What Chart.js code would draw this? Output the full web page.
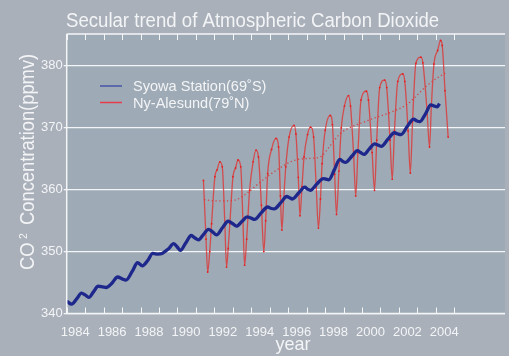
<!DOCTYPE html>
<html>
<head>
<meta charset="utf-8">
<script src="https://cdn.jsdelivr.net/npm/chart.js@4.4.1/dist/chart.umd.min.js"></script>
<style>
  html, body { margin: 0; padding: 0; background: rgb(169,176,186); overflow: hidden; }
  canvas { display: block; }
</style>
</head>
<body>
<canvas id="c" width="509" height="356"></canvas>
<script>
// Syowa Station (69°S) CO2, decimal year / ppmv
const SYOWA_YEAR = [
  1984.00, 1984.27, 1984.55, 1984.80, 1985.00, 1985.20, 1985.45, 1985.70, 1985.95, 1986.14,
  1986.45, 1986.76, 1987.00, 1987.21, 1987.55, 1987.84, 1988.10, 1988.40, 1988.66, 1988.95,
  1989.17, 1989.50, 1989.80, 1990.00, 1990.16, 1990.45, 1990.75, 1990.95, 1991.14, 1991.42,
  1991.68, 1991.90, 1992.12, 1992.45, 1992.75, 1993.00, 1993.20, 1993.50, 1993.78, 1994.00,
  1994.18, 1994.55, 1994.89, 1995.05, 1995.25, 1995.60, 1995.92, 1996.08, 1996.23, 1996.58,
  1996.90, 1997.05, 1997.20, 1997.55, 1997.90, 1998.05, 1998.20, 1998.50, 1998.80, 1998.95,
  1999.10, 1999.45, 1999.75, 1999.92, 2000.10, 2000.40, 2000.69, 2000.88, 2001.05, 2001.42,
  2001.76, 2001.95, 2002.12, 2002.45, 2002.80, 2002.98, 2003.14, 2003.45, 2003.73, 2003.92,
  2004.08, 2004.20
];
const SYOWA_CO2 = [
  342.0, 341.5, 342.4, 343.3, 343.0, 342.6, 343.5, 344.4, 344.3, 344.2,
  344.9, 345.9, 345.6, 345.4, 346.8, 348.2, 347.7, 348.6, 349.7, 349.6,
  349.7, 350.4, 351.3, 350.7, 350.2, 351.4, 352.6, 352.2, 351.9, 352.8,
  353.6, 353.2, 352.7, 353.9, 354.9, 354.5, 354.1, 354.9, 355.6, 355.4,
  355.2, 356.3, 357.2, 357.0, 356.9, 357.9, 358.9, 358.7, 358.5, 359.5,
  360.4, 360.1, 359.9, 360.9, 361.8, 361.7, 361.6, 363.2, 364.9, 364.6,
  364.4, 365.4, 366.3, 366.0, 365.7, 366.6, 367.4, 367.2, 367.0, 368.2,
  369.2, 369.0, 368.9, 370.2, 371.4, 371.1, 371.0, 372.3, 373.7, 373.5,
  373.4, 373.9
];

// Ny-Alesund (79°N) CO2, decimal year / ppmv
const NYA_YEAR = [
  1991.41, 1991.55, 1991.64, 1991.75, 1991.85, 1992.03, 1992.15, 1992.30, 1992.43, 1992.57,
  1992.66, 1992.75, 1992.84, 1993.01, 1993.15, 1993.28, 1993.43, 1993.55, 1993.64, 1993.75,
  1993.91, 1994.10, 1994.26, 1994.39, 1994.55, 1994.68, 1994.78, 1994.89, 1995.10, 1995.34,
  1995.48, 1995.58, 1995.66, 1995.76, 1995.87, 1996.05, 1996.32, 1996.42, 1996.55, 1996.64,
  1996.75, 1996.86, 1997.05, 1997.21, 1997.38, 1997.52, 1997.64, 1997.75, 1997.84, 1998.01,
  1998.28, 1998.40, 1998.52, 1998.62, 1998.75, 1998.88, 1999.05, 1999.27, 1999.38, 1999.55,
  1999.66, 1999.78, 1999.95, 2000.24, 2000.35, 2000.55, 2000.68, 2000.80, 2000.96, 2001.23,
  2001.34, 2001.52, 2001.64, 2001.76, 2001.94, 2002.21, 2002.32, 2002.50, 2002.62, 2002.74,
  2002.92, 2003.19, 2003.30, 2003.52, 2003.66, 2003.76, 2003.90, 2004.10, 2004.26, 2004.35,
  2004.50, 2004.67
];
const NYA_CO2 = [
  361.5, 352.0, 346.7, 350.0, 354.5, 362.1, 363.2, 364.5, 363.7, 354.5,
  347.5, 350.5, 354.5, 362.1, 363.5, 364.8, 363.7, 355.0, 347.8, 352.0,
  359.9, 364.5, 366.4, 365.3, 357.5, 350.0, 355.0, 362.6, 366.5, 368.3,
  366.9, 359.0, 353.5, 358.5, 363.7, 368.5, 370.4, 369.0, 362.0, 355.8,
  360.5, 365.3, 368.9, 370.1, 368.5, 360.5, 353.8, 358.5, 364.2, 369.6,
  372.0, 370.5, 362.5, 356.0, 363.0, 370.0, 373.5, 375.2, 373.5, 365.5,
  359.0, 366.0, 374.5, 375.9, 374.5, 366.0, 359.9, 368.0, 376.5, 377.7,
  376.5, 368.0, 361.7, 369.5, 377.5, 378.7, 377.5, 369.5, 362.7, 371.0,
  380.4, 381.4, 380.5, 373.0, 366.9, 373.5, 380.3, 382.5, 384.1, 383.3,
  376.0, 368.5
];

// Ny-Alesund deseasonalised trend
const NYA_TREND_YEAR = [
  1991.45, 1992.0, 1992.6, 1993.2, 1993.8, 1994.4, 1995.0, 1995.6, 1996.2, 1996.8,
  1997.4, 1997.8, 1998.2, 1998.8, 1999.4, 2000.0, 2000.6, 2001.2, 2001.8, 2002.4,
  2002.9, 2003.4, 2004.0, 2004.6
];
const NYA_TREND_CO2 = [
  358.4, 358.2, 358.2, 358.4, 359.5, 361.0, 362.4, 363.6, 364.6, 365.0,
  365.1, 365.4, 366.8, 369.0, 370.1, 370.8, 371.5, 372.1, 372.8, 373.7,
  375.0, 376.5, 377.9, 379.0
];

// Axis labels
const YEAR_LABELS = ['1984', '1986', '1988', '1990', '1992', '1994', '1996', '1998', '2000', '2002', '2004'];
const CO2_LABELS = ['340', '350', '360', '370', '380'];
const LAST_TICK_YEAR = 2005;

const TITLE = 'Secular trend of Atmospheric Carbon Dioxide';
const X_TITLE = 'year';
const SERIES_NAMES = ['Syowa Station(69\u02DAS)', 'Ny-Alesund(79\u02DAN)'];

const FONT = '"Liberation Sans", Arial, Helvetica, sans-serif';
const TEXT = '#f3f4f6';
const OUTER_BG = 'rgb(169,176,186)';
const PLOT_BG = 'rgb(158,170,181)';
const FRAME = '#f4f5f7';
const BLUE = 'rgb(30,40,140)';
const RED = 'rgba(222,52,52,0.8)';
const LEGEND_COLORS = ['rgb(70,85,170)', 'rgb(230,60,75)'];

const toPoints = (xs, ys) => xs.map((x, i) => ({ x, y: ys[i] }));

// Text drawn slightly narrow to match the tight Helvetica-style lettering
function narrowText(ctx, text, x, y, size, sx, align) {
  ctx.save();
  ctx.font = size + 'px ' + FONT;
  ctx.fillStyle = TEXT;
  ctx.textBaseline = 'alphabetic';
  const w = ctx.measureText(text).width * sx;
  let left = x;
  if (align === 'center') left = x - w / 2;
  ctx.translate(left, y);
  ctx.scale(sx, 1);
  ctx.textAlign = 'left';
  ctx.fillText(text, 0, 0);
  ctx.restore();
}

const backdrop = {
  id: 'backdrop',
  beforeDraw(chart) {
    const { ctx, chartArea: a } = chart;
    ctx.save();
    ctx.fillStyle = OUTER_BG;
    ctx.fillRect(0, 0, chart.width, chart.height);
    ctx.fillStyle = PLOT_BG;
    ctx.fillRect(a.left, a.top, a.right - a.left, a.bottom - a.top);
    ctx.restore();
  }
};

const frame = {
  id: 'frame',
  afterDraw(chart) {
    const { ctx, chartArea: a, scales } = chart;
    const xs = scales.x;
    ctx.save();
    ctx.strokeStyle = FRAME;
    ctx.lineWidth = 1.5;
    ctx.beginPath();
    ctx.moveTo(a.left, a.top); ctx.lineTo(a.right, a.top);
    ctx.moveTo(a.left, a.bottom); ctx.lineTo(a.right, a.bottom);
    ctx.moveTo(a.left, a.top); ctx.lineTo(a.left, a.bottom);
    ctx.stroke();
    // inward year ticks, top and bottom
    ctx.lineWidth = 1;
    ctx.beginPath();
    xs.ticks.forEach(t => {
      if (t.value > LAST_TICK_YEAR) return;
      const px = Math.round(xs.getPixelForValue(t.value)) + 0.5;
      ctx.moveTo(px, a.top); ctx.lineTo(px, a.top + 6);
      ctx.moveTo(px, a.bottom); ctx.lineTo(px, a.bottom - 6);
    });
    ctx.stroke();
    ctx.restore();

    // chart title
    narrowText(ctx, TITLE, 66, 26.5, 20, 0.93, 'left');
    // x-axis title
    narrowText(ctx, X_TITLE, 293, 349.5, 19, 0.95, 'center');

    // y-axis title with raised 2
    ctx.save();
    ctx.translate(33.5, 270);
    ctx.rotate(-Math.PI / 2);
    ctx.scale(0.94, 1);
    ctx.fillStyle = TEXT;
    ctx.textBaseline = 'alphabetic';
    ctx.textAlign = 'left';
    ctx.font = '19.5px ' + FONT;
    ctx.fillText('CO', 0, 0);
    ctx.font = '11px ' + FONT;
    ctx.fillText('2', 31 / 0.94, -7);
    ctx.font = '19.5px ' + FONT;
    ctx.fillText('Concentration(ppmv)', 45 / 0.94, 0);
    ctx.restore();

    // legend
    const rows = [86, 102.5];
    rows.forEach((ry, i) => {
      ctx.save();
      ctx.strokeStyle = LEGEND_COLORS[i];
      ctx.lineWidth = 1.5;
      ctx.beginPath();
      ctx.moveTo(100, ry); ctx.lineTo(122, ry);
      ctx.stroke();
      ctx.restore();
      narrowText(ctx, SERIES_NAMES[i], 133, ry + 5, 15, 0.97, 'left');
    });
  }
};

new Chart(document.getElementById('c'), {
  type: 'line',
  data: {
    datasets: [
      {
        label: SERIES_NAMES[0],
        data: toPoints(SYOWA_YEAR, SYOWA_CO2),
        borderColor: BLUE,
        borderWidth: 3.3,
        pointRadius: 0,
        cubicInterpolationMode: 'monotone'
      },
      {
        label: SERIES_NAMES[1],
        data: toPoints(NYA_YEAR, NYA_CO2),
        borderColor: RED,
        borderWidth: 1.3,
        pointRadius: 0.9,
        pointBorderWidth: 0,
        pointBackgroundColor: 'rgb(230,30,30)',
        cubicInterpolationMode: 'monotone'
      },
      {
        label: SERIES_NAMES[1] + ' trend',
        data: toPoints(NYA_TREND_YEAR, NYA_TREND_CO2),
        borderColor: 'rgba(215,55,55,0.9)',
        borderWidth: 1.3,
        borderDash: [1.2, 2.6],
        pointRadius: 0,
        cubicInterpolationMode: 'monotone'
      }
    ]
  },
  options: {
    responsive: false,
    animation: false,
    devicePixelRatio: 1,
    layout: { padding: { top: 34, left: 0, right: 0, bottom: 0 } },
    plugins: { legend: { display: false }, tooltip: { enabled: false }, title: { display: false } },
    scales: {
      x: {
        type: 'linear',
        min: 1984,
        max: 2007.75,
        afterFit: s => { s.height = 42.5; },
        grid: { display: false },
        border: { display: false },
        ticks: {
          stepSize: 1,
          autoSkip: false,
          maxRotation: 0,
          includeBounds: false,
          labelOffset: 8.5,
          padding: 3,
          color: TEXT,
          font: { family: FONT, size: 13 },
          callback: v => YEAR_LABELS.includes(String(v)) ? String(v) : ''
        }
      },
      y: {
        min: 340,
        max: 385.15,
        afterFit: s => { s.width = 66.7; },
        grid: { color: FRAME, lineWidth: 1.3, tickLength: 3, drawTicks: true },
        border: { display: false },
        ticks: {
          stepSize: 10,
          includeBounds: false,
          padding: 1,
          color: TEXT,
          font: { family: FONT, size: 13 },
          callback: v => CO2_LABELS.includes(String(v)) ? String(v) : ''
        }
      }
    }
  },
  plugins: [backdrop, frame]
});
</script>
</body>
</html>
